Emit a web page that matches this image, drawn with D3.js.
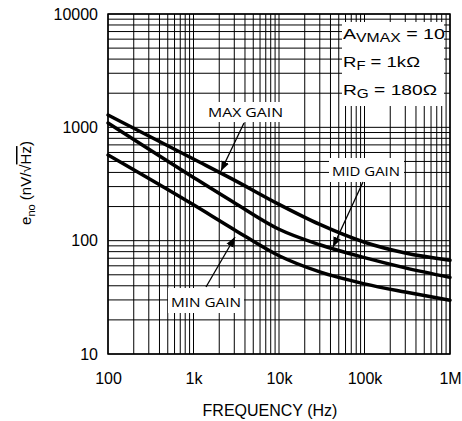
<!DOCTYPE html>
<html><head><meta charset="utf-8">
<script src="https://cdn.jsdelivr.net/npm/d3@7"></script>
<style>html,body{margin:0;padding:0;background:#fff;}</style>
</head><body>
<svg id="c" width="462" height="421"></svg>
<script>
const freqs = [100, 1000, 3000, 10000, 30000, 100000, 300000, 1000000];
const maxGain = [1285, 525, 342, 209, 139, 96.8, 77.8, 67.3];
const midGain = [1091, 361, 216, 126, 92, 70.8, 57.5, 47.4];
const minGain = [570, 207, 125, 73.6, 53, 41.6, 35.2, 29.8];
const xTickVals = [100, 1000, 10000, 100000, 1000000];
const xTickLabels = ["100", "1k", "10k", "100k", "1M"];
const yTickVals = [10, 100, 1000, 10000];
const yTickLabels = ["10", "100", "1000", "10000"];

const svg = d3.select("#c");
const L = 108, R = 450, T = 14, B = 354;
const x = d3.scaleLog().domain([100, 1e6]).range([L, R]);
const y = d3.scaleLog().domain([10, 1e4]).range([B, T]);
const font = "'Liberation Sans', Arial, sans-serif";

// grid
const g = svg.append("g");
g.selectAll(".vx").data(x.ticks()).join("line")
  .attr("x1", d => x(d)).attr("x2", d => x(d)).attr("y1", T).attr("y2", B)
  .attr("stroke", "#000").attr("stroke-width", 1);
g.selectAll(".hy").data(y.ticks()).join("line")
  .attr("y1", d => y(d)).attr("y2", d => y(d)).attr("x1", L).attr("x2", R)
  .attr("stroke", "#000").attr("stroke-width", 1);

// white label boxes
function box(x0, y0, x1, y1) {
  svg.append("rect").attr("x", x0).attr("y", y0).attr("width", x1 - x0).attr("height", y1 - y0).attr("fill", "#fff");
}
box(342, 22, 444, 106);
box(206, 102, 286, 122);
box(329, 158, 404, 182);
box(168, 288, 244, 313);

// frame
svg.append("rect").attr("x", L).attr("y", T).attr("width", R - L).attr("height", B - T)
  .attr("fill", "none").attr("stroke", "#000").attr("stroke-width", 1.5);

// curves
const line = d3.line().x((d, i) => x(freqs[i])).y(d => y(d)).curve(d3.curveMonotoneX);
[maxGain, midGain, minGain].forEach(s => {
  svg.append("path").attr("d", line(s)).attr("fill", "none")
    .attr("stroke", "#000").attr("stroke-width", 3.5).attr("stroke-linecap", "round");
});

// axes labels
const xa = svg.append("g").attr("transform", `translate(0,${B})`)
  .call(d3.axisBottom(x).tickValues(xTickVals).tickFormat((d, i) => xTickLabels[i]).tickSize(0).tickPadding(19));
xa.select(".domain").remove();
xa.selectAll("text").attr("font-family", font).attr("font-size", 16).attr("fill", "#000");
const ya = svg.append("g").attr("transform", `translate(${L},0)`)
  .call(d3.axisLeft(y).tickValues(yTickVals).tickFormat((d, i) => yTickLabels[i]).tickSize(0).tickPadding(10));
ya.select(".domain").remove();
ya.selectAll("text").attr("font-family", font).attr("font-size", 16).attr("fill", "#000");

// axis titles
svg.append("text").attr("x", 270).attr("y", 416).attr("text-anchor", "middle")
  .attr("font-family", font).attr("font-size", 16).text("FREQUENCY (Hz)");
const yt = svg.append("text").attr("transform", "translate(31,183) rotate(-90)")
  .attr("text-anchor", "middle").attr("font-family", font).attr("font-size", 15);
yt.append("tspan").text("e");
yt.append("tspan").attr("font-size", 11).attr("dy", 4).text("no");
yt.append("tspan").attr("dy", -4).text(" (nV/");
yt.append("tspan").text("√");
yt.append("tspan").style("text-decoration", "overline").text("Hz");
yt.append("tspan").text(")");

// conditions text
function cond(yb, main, sub, rest, w) {
  const t = svg.append("text").attr("x", 343).attr("y", yb).attr("font-family", font).attr("font-size", 15)
    .attr("textLength", w).attr("lengthAdjust", "spacingAndGlyphs");
  t.append("tspan").text(main);
  t.append("tspan").attr("font-size", 12).attr("dy", 3).text(sub);
  t.append("tspan").attr("dy", -3).text(rest);
}
cond(39, "A", "VMAX", " = 10", 102);
cond(67, "R", "F", " = 1kΩ", 77);
cond(95, "R", "G", " = 180Ω", 94);

// gain labels
const lf = "'Open Sans', 'Noto Sans', sans-serif";
function lab(x0, yb, s, w) {
  svg.append("text").attr("x", x0).attr("y", yb).attr("font-family", lf).attr("font-size", 13)
    .attr("textLength", w).attr("lengthAdjust", "spacingAndGlyphs").text(s);
}
lab(208, 117, "MAX GAIN", 75);
lab(332, 176, "MID GAIN", 68);
lab(171, 307, "MIN GAIN", 70);

// arrows
const defs = svg.append("defs");
defs.append("marker").attr("id", "ah").attr("viewBox", "0 0 10 10").attr("refX", 10).attr("refY", 5)
  .attr("markerWidth", 10).attr("markerHeight", 10).attr("markerUnits", "userSpaceOnUse")
  .attr("orient", "auto").append("path").attr("d", "M0,1 L10,5 L0,9 Z").attr("fill", "#000");
function arrow(x1, y1, x2, y2) {
  svg.append("line").attr("x1", x1).attr("y1", y1).attr("x2", x2).attr("y2", y2)
    .attr("stroke", "#000").attr("stroke-width", 1.3).attr("marker-end", "url(#ah)");
}
arrow(244, 123, 221, 171);
arrow(363, 182, 333, 247);
arrow(206, 287, 235, 237);
</script>
</body></html>
